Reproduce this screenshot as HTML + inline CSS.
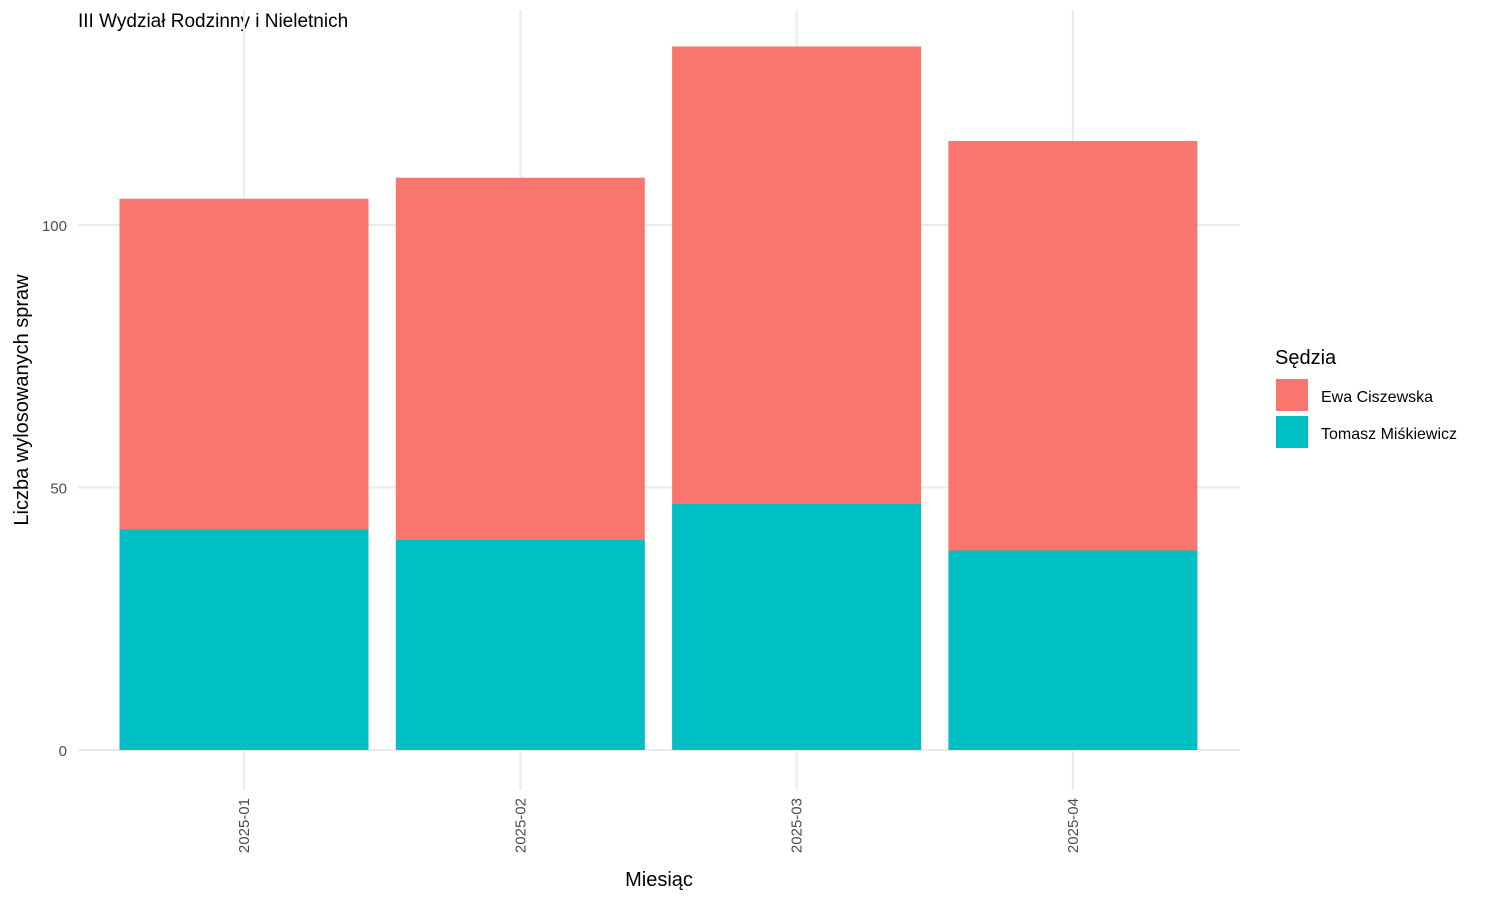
<!DOCTYPE html>
<html><head><meta charset="utf-8"><style>
body{margin:0;background:#fff;font-family:"Liberation Sans",sans-serif;}
</style></head><body>
<svg width="1500" height="900" xmlns="http://www.w3.org/2000/svg" font-family="Liberation Sans, sans-serif">
<text x="78" y="27" font-size="19" fill="#000">III Wydział Rodzinny i Nieletnich</text>
<g id="grid"></g>
<g id="bars"></g>
<g id="yticks"></g>
<g id="xticks"></g>
<text x="659" y="886" font-size="20" text-anchor="middle">Miesiąc</text>
<text transform="translate(28,400) rotate(-90)" font-size="20" text-anchor="middle">Liczba wylosowanych spraw</text>
<g>
<text x="1275" y="364" font-size="20">Sędzia</text>
<rect x="1276" y="379" width="32" height="32" fill="#F8766D"/>
<text x="1321" y="402" font-size="16">Ewa Ciszewska</text>
<rect x="1276" y="416" width="32" height="32" fill="#00BFC4"/>
<text x="1321" y="439" font-size="16">Tomasz Miśkiewicz</text>
</g>
</svg>
<script>
const categories=["2025-01","2025-02","2025-03","2025-04"];
const tomasz=[42,40,47,38];
const ewa=[63,69,87,78];
const yTicks=[0,50,100];
const NS="http://www.w3.org/2000/svg";
const y=v=>750-v*5.25;
const x=i=>244+i*276.3;
const bw=249;
function mk(t,a,p){const e=document.createElementNS(NS,t);for(const k in a)e.setAttribute(k,a[k]);p.appendChild(e);return e;}
const grid=document.getElementById('grid'),bars=document.getElementById('bars'),yt=document.getElementById('yticks'),xt=document.getElementById('xticks');
yTicks.forEach(v=>{
 const l=mk('line',{x1:78,x2:1240,y1:y(v),y2:y(v),stroke:'#ebebeb','stroke-width':2},grid);
 
 
 const t=mk('text',{x:67,y:y(v)+6,'font-size':15,fill:'#4d4d4d','text-anchor':'end'},yt);
 t.textContent=v;
 
 
});
categories.forEach((c,i)=>{
 const l=mk('line',{x1:x(i),x2:x(i),y1:10,y2:790,stroke:'#ebebeb','stroke-width':2},grid);
 
 
 const b1=mk('rect',{x:x(i)-bw/2,y:y(tomasz[i]),width:bw,height:y(0)-y(tomasz[i]),fill:'#00BFC4'},bars);
 
 
 const top=tomasz[i]+ewa[i];
 const b2=mk('rect',{x:x(i)-bw/2,y:y(top),width:bw,height:y(tomasz[i])-y(top),fill:'#F8766D'},bars);
 
 
 const t=mk('text',{transform:`translate(${x(i)+5},798) rotate(-90)`,'font-size':15,fill:'#4d4d4d','text-anchor':'end'},xt);
 t.textContent=c;
 
 
});
</script>
</body></html>
